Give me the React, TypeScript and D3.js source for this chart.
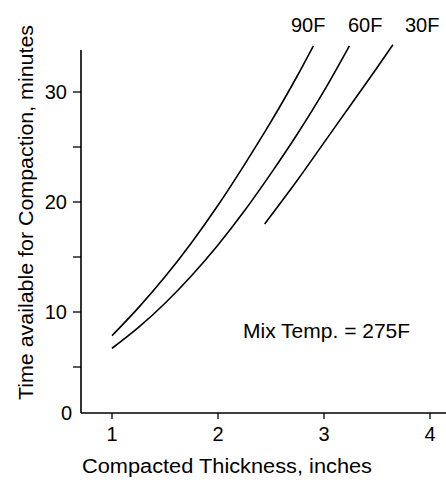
import React from "react";
import * as d3 from "d3";

const thickness90 = [1.0, 1.25, 1.5, 1.75, 2.0, 2.25, 2.5, 2.75, 2.9];
const time90 = [7.85, 10.4, 13.2, 16.3, 19.7, 23.4, 27.3, 31.5, 34.2];
const thickness60 = [1.0, 1.25, 1.5, 1.75, 2.0, 2.25, 2.5, 2.75, 3.0, 3.24];
const time60 = [6.7, 8.6, 10.8, 13.3, 16.1, 19.2, 22.6, 26.2, 30.1, 34.2];
const thickness30 = [2.44, 2.75, 3.0, 3.25, 3.5, 3.65];
const time30 = [18.0, 22.0, 25.4, 28.8, 32.2, 34.3];

const seriesLabels = ["90F", "60F", "30F"];
const xTicks = [1, 2, 3, 4];
const yTicks = [5, 10, 15, 20, 25, 30];
const yTickLabels = [0, 10, 20, 30];
const xTitle = "Compacted Thickness, inches";
const yTitle = "Time available for Compaction, minutes";
const note = "Mix Temp. = 275F";

const W = 446;
const H = 480;
const axisX = 81;
const axisBottom = 413;
const axisTop = 50;

export default function App() {
  const x = d3.scaleLinear().domain([1, 4]).range([112, 430]);
  const y = d3.scaleLinear().domain([0, 30]).range([422, 92]);
  const line = d3
    .line<[number, number]>()
    .x((d) => x(d[0]))
    .y((d) => y(d[1]))
    .curve(d3.curveMonotoneX);

  const series = [
    d3.zip(thickness90, time90) as [number, number][],
    d3.zip(thickness60, time60) as [number, number][],
    d3.zip(thickness30, time30) as [number, number][],
  ];
  const labelX = [291, 348, 405];
  const font = "'Liberation Sans', Arial, Helvetica, sans-serif";

  return (
    <svg
      width={W}
      height={H}
      style={{ position: "absolute", left: 0, top: 0, background: "#fff" }}
      fontFamily={font}
    >
      <rect x={0} y={0} width={W} height={H} fill="#fff" />
      {/* axes */}
      <line x1={axisX} y1={axisTop} x2={axisX} y2={axisBottom} stroke="#000" strokeWidth={1.6} />
      <line x1={axisX} y1={axisBottom} x2={W} y2={axisBottom} stroke="#000" strokeWidth={1.6} />
      {yTicks.map((t) => (
        <line key={"yt" + t} x1={axisX - 8} x2={axisX} y1={y(t)} y2={y(t)} stroke="#000" strokeWidth={1.3} />
      ))}
      {yTickLabels.map((t) => (
        <text
          key={"yl" + t}
          x={t === 0 ? 72 : 67}
          y={t === 0 ? axisBottom : y(t)}
          dy="0.36em"
          textAnchor="end"
          fontSize={20}
          fill="#000"
        >
          {t}
        </text>
      ))}
      {xTicks.map((t) => (
        <g key={"xt" + t}>
          <line x1={x(t)} x2={x(t)} y1={axisBottom} y2={axisBottom + 6} stroke="#000" strokeWidth={1.3} />
          <text x={x(t)} y={441} textAnchor="middle" fontSize={20} fill="#000">
            {t}
          </text>
        </g>
      ))}
      {/* titles */}
      <text x={82} y={473} fontSize={19.5} textLength={290} lengthAdjust="spacingAndGlyphs" fill="#000">
        {xTitle}
      </text>
      <text
        transform={`translate(33,400) rotate(-90)`}
        fontSize={20}
        textLength={375}
        lengthAdjust="spacingAndGlyphs"
        fill="#000"
      >
        {yTitle}
      </text>
      {/* curves */}
      {series.map((s, i) => (
        <path key={"s" + i} d={line(s) || ""} fill="none" stroke="#000" strokeWidth={1.6} />
      ))}
      {seriesLabels.map((l, i) => (
        <text key={"l" + i} x={labelX[i]} y={32} fontSize={20} fill="#000">
          {l}
        </text>
      ))}
      <text x={243} y={338} fontSize={21} fill="#000">
        {note}
      </text>
    </svg>
  );
}
